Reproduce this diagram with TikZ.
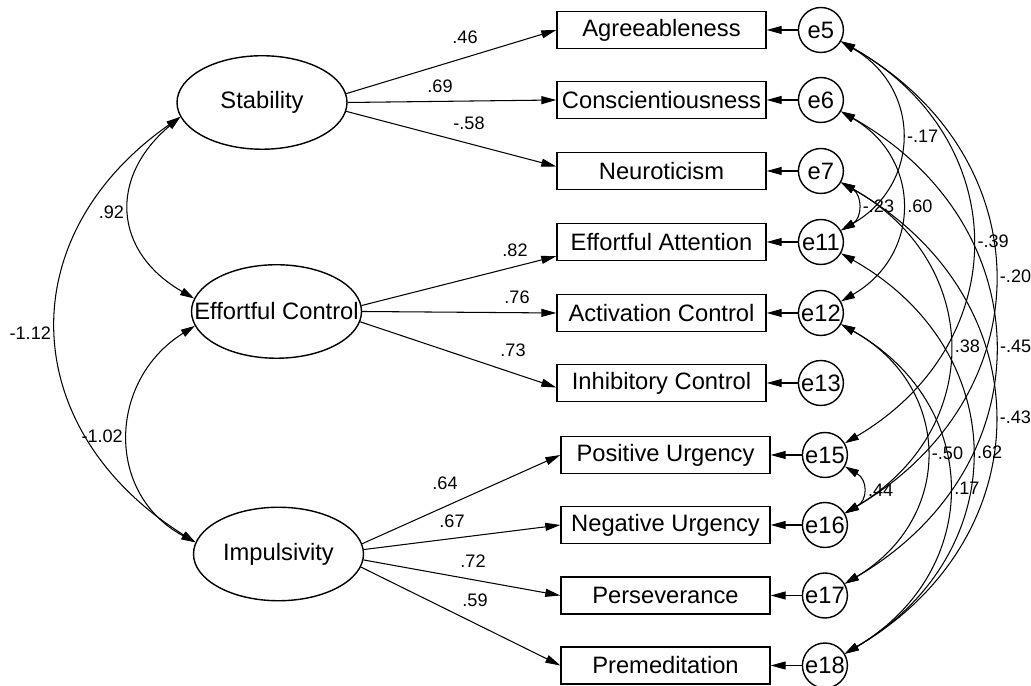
\documentclass[tikz,border=0pt]{standalone}
\usepackage{fontspec}
\setmainfont{Liberation Sans}
\usetikzlibrary{arrows.meta,positioning,shapes.geometric}

\tikzset{
  latent/.style={ellipse, draw, line width=0.8pt, minimum width=3.40cm, minimum height=1.87cm, inner sep=0pt},
  manifest/.style={rectangle, draw, line width=0.8pt, minimum width=4.18cm, minimum height=0.74cm, inner sep=0pt},
  err/.style={circle, draw, line width=0.8pt, minimum size=0.9cm, inner sep=0pt},
  reg/.style={line width=0.6pt, -{Triangle[length=3mm,width=1.6mm]}},
  twohead/.style={line width=0.6pt, {Triangle[length=2.8mm,width=1.6mm]}-{Triangle[length=2.8mm,width=1.6mm]}},
  cov/.style={twohead, bend left=60, looseness=1.26},
  coef/.style={font=\fontsize{10.3}{12}\selectfont, inner sep=1.5pt},
}

\begin{document}
\begin{tikzpicture}[font=\fontsize{13.5}{16}\selectfont]
    \useasboundingbox (0,0) rectangle (20.62,13.72);

    % latent factors
    \node[latent, label=center:Stability] (stab) at (5.24,11.67) {};
    \node[latent, label=center:Effortful Control] (ec) at (5.53,7.49) {};
    \node[latent, label=center:Impulsivity] (imp) at (5.57,2.64) {};

    % observed scales
    \node[manifest] (agr) at (13.23,13.12) {Agreeableness};
    \node[manifest] (con) at (13.23,11.72) {Conscientiousness};
    \node[manifest] (neu) at (13.23,10.30) {Neuroticism};
    \node[manifest] (ea) at (13.23,8.88) {Effortful Attention};
    \node[manifest] (ac) at (13.23,7.46) {Activation Control};
    \node[manifest] (ic) at (13.23,6.06) {Inhibitory Control};
    \node[manifest] (pu) at (13.31,4.62) {Positive Urgency};
    \node[manifest] (nu) at (13.31,3.22) {Negative Urgency};
    \node[manifest] (pers) at (13.31,1.81) {Perseverance};
    \node[manifest] (prem) at (13.31,0.41) {Premeditation};

    % error terms
    \node[err, right=0.62cm of agr] (e5) {e5};
    \node[err, right=0.62cm of con] (e6) {e6};
    \node[err, right=0.62cm of neu] (e7) {e7};
    \node[err, right=0.62cm of ea] (e11) {e11};
    \node[err, right=0.62cm of ac] (e12) {e12};
    \node[err, right=0.62cm of ic] (e13) {e13};
    \node[err, right=0.62cm of pu] (e15) {e15};
    \node[err, right=0.62cm of nu] (e16) {e16};
    \node[err, right=0.62cm of pers] (e17) {e17};
    \node[err, right=0.62cm of prem] (e18) {e18};

    % loadings
    \draw[reg] (stab.6) -- (agr.west);
    \draw[reg] (stab.0) -- (con.west);
    \draw[reg] (stab.-6) -- ([yshift=0.09cm]neu.west);
    \draw[reg] (ec.4) -- ([yshift=0.1cm]ea.south west);
    \draw[reg] (ec.0) -- (ac.west);
    \draw[reg] (ec.-7) -- ([yshift=-0.09cm]ic.west);
    \draw[reg] (imp.7) -- (pu.west);
    \draw[reg] (imp.3) -- (nu.west);
    \draw[reg] (imp.-4) -- (pers.west);
    \draw[reg] (imp.-9) -- (prem.west);

    \node[coef] (b46) at (9.30,12.98) {.46};
    \node[coef] (b69) at (8.80,12.00) {.69};
    \node[coef] (b58) at (9.38,11.26) {-.58};
    \node[coef] (b82) at (10.30,8.72) {.82};
    \node[coef] (b76) at (10.34,7.78) {.76};
    \node[coef] (b73) at (10.26,6.72) {.73};
    \node[coef] (b64) at (8.90,4.06) {.64};
    \node[coef] (b67) at (9.04,3.30) {.67};
    \node[coef] (b72) at (9.46,2.50) {.72};
    \node[coef] (b59) at (9.50,1.72) {.59};

    % residuals
    \draw[reg] (e5) -- (agr);
    \draw[reg] (e6) -- (con);
    \draw[reg] (e7) -- (neu);
    \draw[reg] (e11) -- (ea);
    \draw[reg] (e12) -- (ac);
    \draw[reg] (e13) -- (ic);
    \draw[reg] (e15) -- (pu);
    \draw[reg] (e16) -- (nu);
    \draw[reg] (e17) -- (pers);
    \draw[reg] (e18) -- (prem);

    % factor correlations
    \draw[twohead] (stab.190) to[out=220, in=150, looseness=1.32] node[coef, midway, left=1.5pt] {.92} (ec.171);
    \draw[twohead] (ec.190) to[out=212, in=152, looseness=1.21] node[coef, midway, left=1.5pt] {-1.02} (imp.172);
    \draw[twohead] (stab.190) to[out=215, in=148, looseness=1.26] node[coef, midway, left=1.5pt] {-1.12} (imp.172);

    % error covariances
    \draw[cov] (e5) to node[coef, midway, right=1.5pt] {-.17} (e11);
    \draw[cov, looseness=1.33] (e7) to node[coef, midway, right=1.5pt] {-.23} (e11);
    \draw[cov] (e6) to node[coef, midway, right=1.5pt] {.60} (e12);
    \draw[cov] (e5) to node[coef, midway, right=1.5pt] {-.39} (e15);
    \draw[cov] (e5) to node[coef, midway, right=1.5pt] {-.20} (e16);
    \draw[cov] (e7) to node[coef, midway, right=1.5pt] {.38} (e16);
    \draw[cov] (e6) to node[coef, midway, right=1.5pt] {-.45} (e17);
    \draw[cov] (e7) to node[coef, midway, right=1.5pt] {-.43} (e18);
    \draw[cov] (e12) to node[coef, midway, right=1.5pt] {-.50} (e17);
    \draw[cov] (e11) to node[coef, midway, right=1.5pt] {.62} (e18);
    \draw[cov] (e12) to node[coef, midway, right=1.5pt] {.17} (e18);
    \draw[cov, looseness=1.45] (e15) to node[coef, midway, right=1.5pt] {.44} (e16);
\end{tikzpicture}
\end{document}
